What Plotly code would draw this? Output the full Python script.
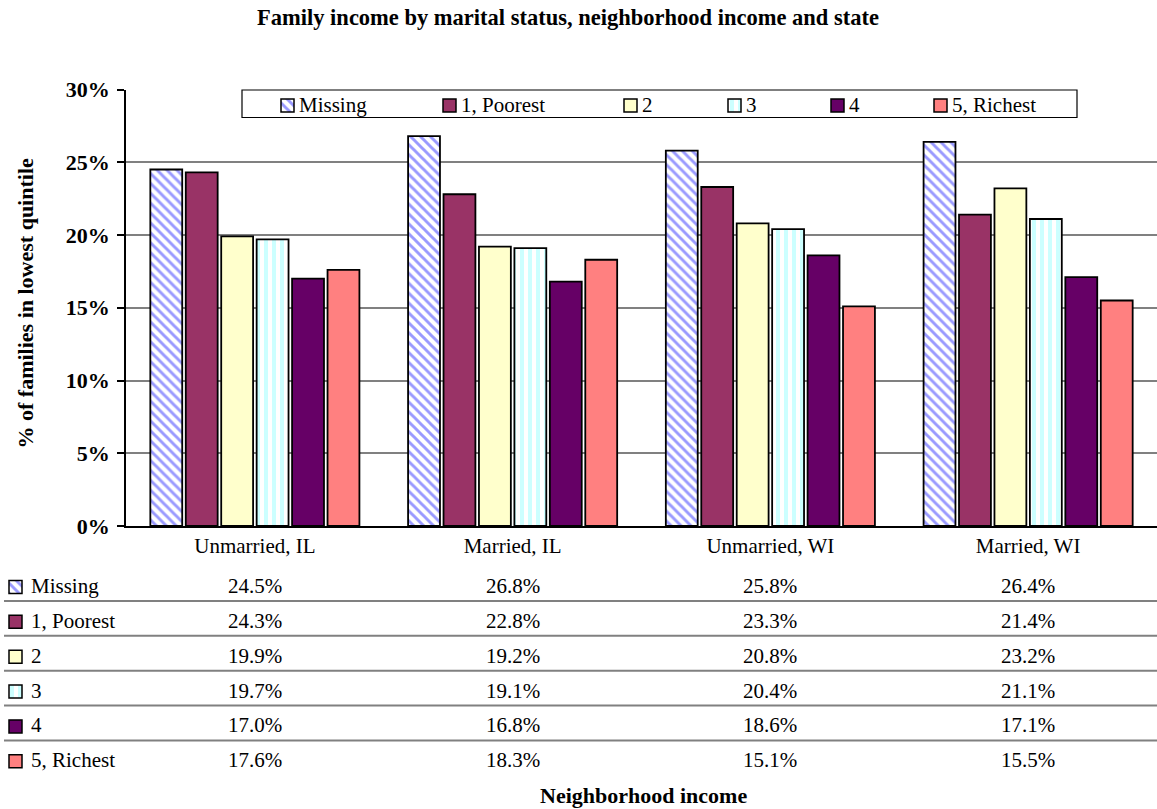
import plotly.graph_objects as go

# ---- data -------------------------------------------------------------
categories = ["Unmarried, IL", "Married, IL", "Unmarried, WI", "Married, WI"]
series_names = ["Missing", "1, Poorest", "2", "3", "4", "5, Richest"]

missing = [24.5, 26.8, 25.8, 26.4]
poorest = [24.3, 22.8, 23.3, 21.4]
quint2 = [19.9, 19.2, 20.8, 23.2]
quint3 = [19.7, 19.1, 20.4, 21.1]
quint4 = [17.0, 16.8, 18.6, 17.1]
richest = [17.6, 18.3, 15.1, 15.5]

y_ticks = [0, 5, 10, 15, 20, 25, 30]
y_tick_labels = [f"{v}%" for v in y_ticks]

series_values = [missing, poorest, quint2, quint3, quint4, richest]

# ---- styling ----------------------------------------------------------
W, H = 1157, 809
FONT = "Liberation Serif"

markers = [
    dict(color="white", line=dict(color="black", width=1.8),
         pattern=dict(shape="\\", fgcolor="#9999ff", bgcolor="white",
                      size=7, solidity=0.42, fillmode="replace")),
    dict(color="#993366", line=dict(color="black", width=1.8)),
    dict(color="#ffffcc", line=dict(color="black", width=1.8)),
    dict(color="white", line=dict(color="black", width=1.8),
         pattern=dict(shape="|", fgcolor="#ccffff", bgcolor="white",
                      size=8, solidity=0.5, fillmode="replace")),
    dict(color="#660066", line=dict(color="black", width=1.8)),
    dict(color="#ff8080", line=dict(color="black", width=1.8)),
]


def px_x(x):
    return x / W


def px_y(y):
    return 1 - y / H


fig = go.Figure()

# grouped bars
for name, vals, mk in zip(series_names, series_values, markers):
    fig.add_trace(go.Bar(x=categories, y=vals, name=name, marker=mk,
                         showlegend=False, xaxis="x", yaxis="y"))

# swatches for the legend box and the data table, drawn on a pixel-space overlay axis
SW = 13
legend_swatch_x = [281, 443, 624, 728, 831, 934]
legend_swatch_top = 99
table_swatch_x = 9
row_center0 = 587
row_step = 34.85
for i, mk in enumerate(markers):
    mk2 = dict(mk)
    mk2["line"] = dict(color="black", width=1.5)
    fig.add_trace(go.Bar(
        x=[legend_swatch_x[i], table_swatch_x],
        y=[SW, SW],
        base=[legend_swatch_top, row_center0 + i * row_step - SW / 2],
        width=SW, offset=0, marker=mk2, showlegend=False,
        xaxis="x2", yaxis="y2", hoverinfo="skip"))

annotations = []

# legend labels
for i, name in enumerate(series_names):
    annotations.append(dict(x=px_x(legend_swatch_x[i] + SW + 3), y=px_y(105.5),
                            xref="paper", yref="paper", text=name,
                            xanchor="left", yanchor="middle", showarrow=False,
                            font=dict(family=FONT, size=21, color="black")))

# data table: row labels and values
for i, (name, vals) in enumerate(zip(series_names, series_values)):
    yc = row_center0 + i * row_step - 1
    annotations.append(dict(x=px_x(29), y=px_y(yc), xref="paper", yref="paper",
                            text=name, xanchor="left", yanchor="middle",
                            showarrow=False,
                            font=dict(family=FONT, size=21, color="black")))
    for cat, v in zip(categories, vals):
        annotations.append(dict(x=cat, y=px_y(yc), xref="x", yref="paper",
                                text=f"{v:.1f}%", xanchor="center",
                                yanchor="middle", showarrow=False,
                                font=dict(family=FONT, size=21, color="black")))

# titles
annotations.append(dict(x=px_x(567.5), y=px_y(18), xref="paper", yref="paper",
                        text="<b>Family income by marital status, neighborhood income and state</b>",
                        showarrow=False, xanchor="center", yanchor="middle",
                        font=dict(family=FONT, size=22.5, color="black")))
annotations.append(dict(x=px_x(643), y=px_y(795), xref="paper", yref="paper",
                        text="<b>Neighborhood income</b>", showarrow=False,
                        xanchor="center", yanchor="middle",
                        font=dict(family=FONT, size=22, color="black")))
annotations.append(dict(x=px_x(25), y=px_y(303.5), xref="paper", yref="paper",
                        text="<b>% of families in lowest quintile</b>",
                        showarrow=False, textangle=-90, xanchor="center",
                        yanchor="middle",
                        font=dict(family=FONT, size=22, color="black")))

shapes = []
# legend frame
shapes.append(dict(type="rect", xref="paper", yref="paper",
                   x0=px_x(242), x1=px_x(1077), y0=px_y(90), y1=px_y(117.5),
                   line=dict(color="black", width=1.2),
                   fillcolor="rgba(0,0,0,0)", layer="above"))
# table row separators
sep0 = 601
for i in range(5):
    yy = px_y(sep0 + i * row_step)
    shapes.append(dict(type="line", xref="paper", yref="paper",
                       x0=px_x(4), x1=1, y0=yy, y1=yy,
                       line=dict(color="#808080", width=2), layer="above"))

fig.update_layout(
    width=W, height=H,
    autosize=False,
    margin=dict(l=0, r=0, t=0, b=0, pad=0, autoexpand=False),
    paper_bgcolor="white",
    plot_bgcolor="rgba(0,0,0,0)",
    barmode="group",
    bargap=0.175,
    bargroupgap=0.1,
    showlegend=False,
    font=dict(family=FONT, color="black"),
    xaxis=dict(domain=[px_x(126), 1], range=[-0.5, 3.5],
               showline=True, linecolor="black", linewidth=2,
               ticks="", showgrid=False, automargin=False,
               tickfont=dict(family=FONT, size=21, color="black"),
               anchor="y"),
    yaxis=dict(domain=[px_y(526), px_y(89.5)], range=[0, 30],
               tickmode="array", tickvals=y_ticks, ticktext=y_tick_labels,
               showline=True, linecolor="black", linewidth=1.5,
               ticks="outside", ticklen=7, tickcolor="black", tickwidth=1.5,
               ticklabelstandoff=3,
               showgrid=True, gridcolor="#808080", gridwidth=1.5,
               zeroline=False, automargin=False,
               tickfont=dict(family=FONT, size=22, color="black", weight="bold"),
               anchor="x"),
    xaxis2=dict(domain=[0, 1], range=[0, W], visible=False, anchor="y2",
                fixedrange=True, automargin=False),
    yaxis2=dict(domain=[0, 1], range=[H, 0], visible=False, anchor="x2",
                fixedrange=True, automargin=False),
    annotations=annotations,
    shapes=shapes,
)

fig.write_html("out.html")
